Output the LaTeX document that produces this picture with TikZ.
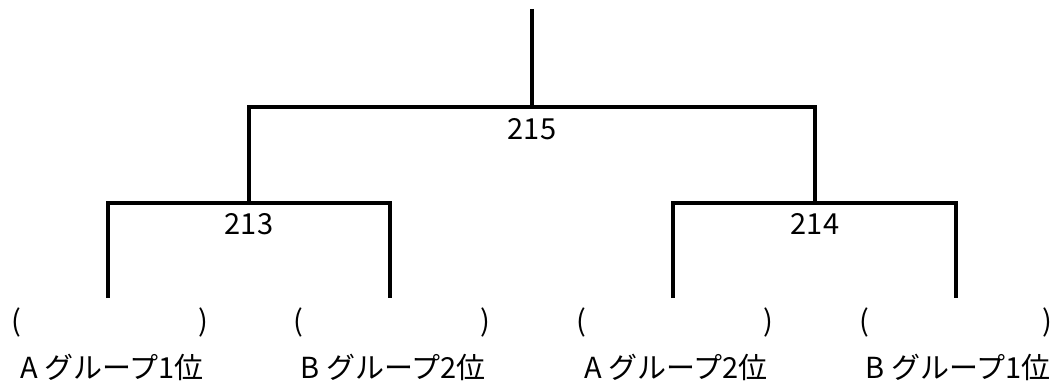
\documentclass[tikz,border=0pt]{standalone}
\usepackage{fontspec}
\setmainfont{Noto Sans CJK JP}

\begin{document}
\begin{tikzpicture}[x=1pt,y=-1pt,
    every node/.style={font=\fontsize{29}{34}\selectfont, inner sep=0pt},
    line/.style={line width=3.4pt},
    team/.style={anchor=base}]
\useasboundingbox (0,0) rectangle (1059,387);

% ==== 決勝（215） ====
\coordinate (top) at (532,9);
\coordinate (f)   at (532,107);
\coordinate (fL)  at (249,107);
\coordinate (fR)  at (815,107);
\node (n215) at (532,129) {215};

% ==== 準決勝（213, 214） ====
\coordinate (sL)  at (249,203);
\coordinate (sR)  at (815,203);
\coordinate (sLa) at (108,203);
\coordinate (sLb) at (390,203);
\coordinate (sRa) at (673,203);
\coordinate (sRb) at (956,203);
\node (n213) at (249,224) {213};
\node (n214) at (815,224) {214};

% 線の下端
\coordinate (eA1) at (108,298);
\coordinate (eB2) at (390,298);
\coordinate (eA2) at (673,298);
\coordinate (eB1) at (956,298);

% ==== 線 ====
\draw[line] (top) -- (f);
\draw[line] (sL) -- (fL) -- (fR) -- (sR);
\draw[line] (eA1) -- (sLa) -- (sLb) -- (eB2);
\draw[line] (eA2) -- (sRa) -- (sRb) -- (eB1);

% ==== かっこ ====
\node (lA1) at (16,322)  {(};
\node (rA1) at (203,322) {)};
\node (lB2) at (298,322) {(};
\node (rB2) at (485,322) {)};
\node (lA2) at (581,322) {(};
\node (rA2) at (768,322) {)};
\node (lB1) at (864,322) {(};
\node (rB1) at (1047,322) {)};

% ==== チーム名 ====
\node[team] (tA1) at (112,378) {A グループ1位};
\node[team] (tB2) at (393,378) {B グループ2位};
\node[team] (tA2) at (676,378) {A グループ2位};
\node[team] (tB1) at (958,378) {B グループ1位};

\end{tikzpicture}
\end{document}
